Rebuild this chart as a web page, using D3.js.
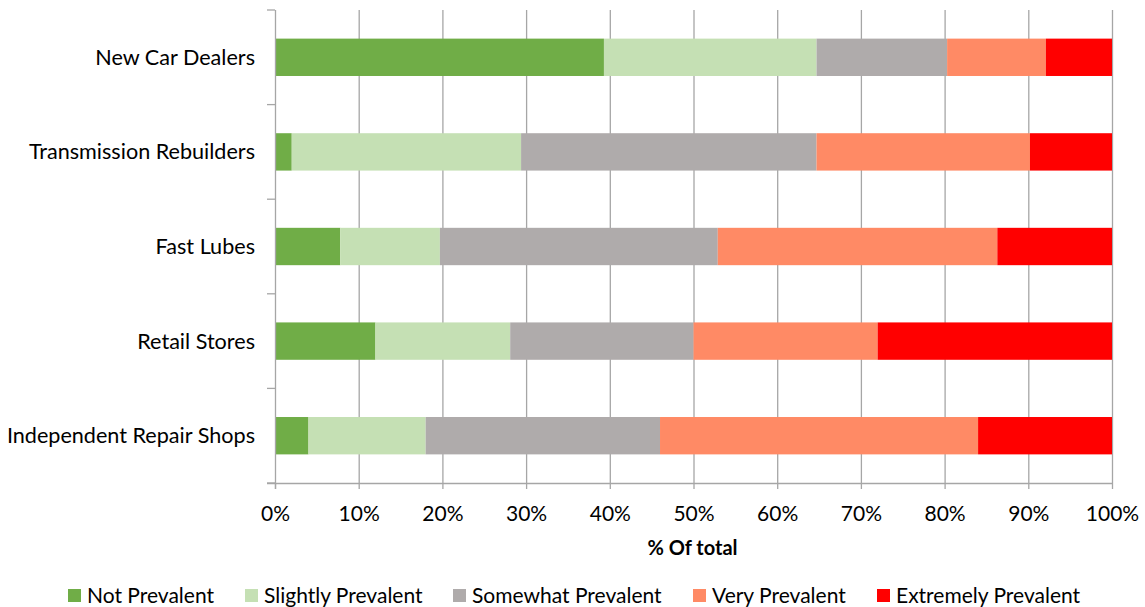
<!DOCTYPE html>
<html><head><meta charset="utf-8">
<script src="https://cdn.jsdelivr.net/npm/d3@7"></script>
<style>body{margin:0;background:#fff}svg{display:block}text{font-family:Lato,"Open Sans",sans-serif;fill:#000}</style>
</head><body><svg id="c" width="1145" height="607"></svg>
<script>
const categories = ["New Car Dealers","Transmission Rebuilders","Fast Lubes","Retail Stores","Independent Repair Shops"];
const seriesNames = ["Not Prevalent","Slightly Prevalent","Somewhat Prevalent","Very Prevalent","Extremely Prevalent"];
const notPrevalent      = [39.3, 2.0, 7.8, 12.0, 4.0];
const slightlyPrevalent = [25.4, 27.4, 11.9, 16.1, 14.0];
const somewhatPrevalent = [15.6, 35.3, 33.2, 21.9, 28.0];
const veryPrevalent     = [11.8, 25.5, 33.4, 22.0, 38.0];
const extremelyPrevalent= [7.9, 9.8, 13.7, 28.0, 16.0];
const xTicks = [0,10,20,30,40,50,60,70,80,90,100];
const colors = ["#70AD47","#C5E0B4","#AFABAB","#FF8A65","#FF0000"];

const seriesVals = [notPrevalent, slightlyPrevalent, somewhatPrevalent, veryPrevalent, extremelyPrevalent];
const rows = categories.map((c,i)=>{const o={cat:c}; seriesNames.forEach((s,j)=>o[s]=seriesVals[j][i]); return o;});
const stack = d3.stack().keys(seriesNames).offset(d3.stackOffsetExpand)(rows);

const svg = d3.select("#c");
const L=275, R=1112, T=10, B=483;
const x = d3.scaleLinear().domain([0,1]).range([L,R]);
const y = d3.scaleBand().domain(categories).range([T,B]).paddingInner(0.605).paddingOuter(0.3025);

// gridlines
svg.append("g").selectAll("line").data(xTicks.slice(1)).join("line")
  .attr("x1",d=>x(d/100)+0.5).attr("x2",d=>x(d/100)+0.5).attr("y1",T).attr("y2",B)
  .attr("stroke","#a6a6a6").attr("stroke-width",1.3);

// bars
svg.append("g").selectAll("g").data(stack).join("g").attr("fill",(d,i)=>colors[i])
  .selectAll("rect").data(d=>d).join("rect")
  .attr("x",d=>x(d[0])).attr("width",d=>x(d[1])-x(d[0]))
  .attr("y",d=>y(d.data.cat)).attr("height",y.bandwidth());

// x axis
const xa = svg.append("g").attr("transform",`translate(0,${B})`)
  .call(d3.axisBottom(x).tickValues(xTicks.map(d=>d/100)).tickFormat(d=>Math.round(d*100)+"%").tickSize(6).tickPadding(17));
xa.select(".domain").attr("stroke","#a6a6a6").attr("stroke-width",1.3).attr("d",`M${L-8},0.5H${R}`);
xa.selectAll(".tick line").attr("stroke","#a6a6a6").attr("stroke-width",1.3);
xa.selectAll(".tick text").style("font-size","21px").attr("fill","#000");

// y axis
const ya = svg.append("g").attr("transform",`translate(${L},0)`);
ya.append("line").attr("x1",0.5).attr("x2",0.5).attr("y1",T).attr("y2",B+6).attr("stroke","#a6a6a6").attr("stroke-width",1.3);
const bandStep = (B-T)/categories.length;
ya.selectAll("line.t").data(d3.range(categories.length+1)).join("line").attr("class","t")
  .attr("x1",-8).attr("x2",0).attr("y1",d=>T+d*bandStep).attr("y2",d=>T+d*bandStep)
  .attr("stroke","#a6a6a6").attr("stroke-width",1.3);
ya.selectAll("text").data(categories).join("text")
  .attr("x",-20).attr("y",d=>y(d)+y.bandwidth()/2).attr("dy","0.35em").attr("text-anchor","end")
  .style("font-size","21.6px").text(d=>d);

// axis title
svg.append("text").attr("x",(L+R)/2 - 1).attr("y",555).attr("text-anchor","middle")
  .style("font-size","20px").style("font-weight","bold").text("% Of total");

// legend
const legX = [68,245,453,693,877];
const lg = svg.append("g").selectAll("g").data(seriesNames).join("g")
  .attr("transform",(d,i)=>`translate(${legX[i]},596)`);
lg.append("rect").attr("x",0).attr("y",-7).attr("width",13).attr("height",13).attr("fill",(d,i)=>colors[i]);
lg.append("text").attr("x",19).attr("y",0).attr("dy","0.35em").style("font-size","21px").text(d=>d);
</script></body></html>
